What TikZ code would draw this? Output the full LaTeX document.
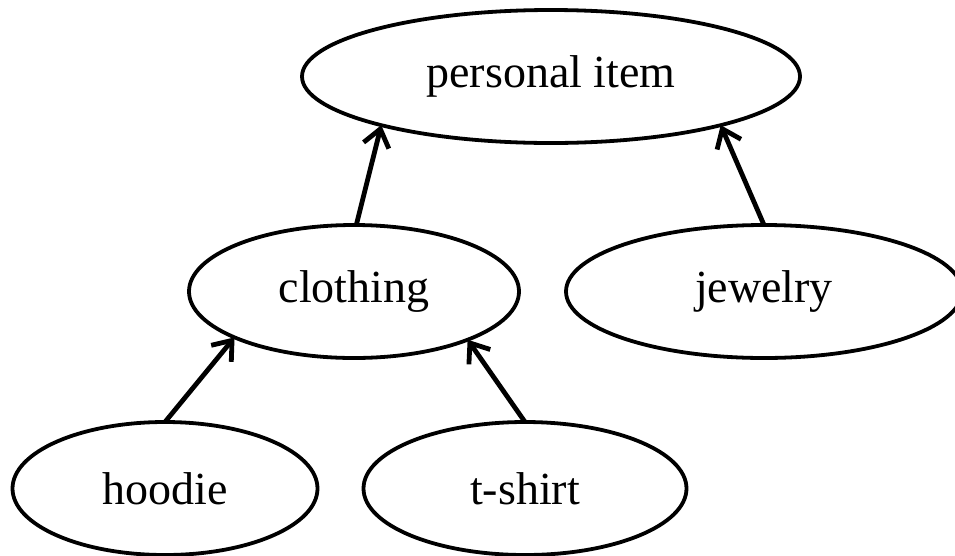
\documentclass[tikz,border=0pt]{standalone}
\usepackage{fontspec}
\setmainfont{Liberation Serif}
\usepackage{tikz}
\usetikzlibrary{shapes.geometric, arrows.meta}

\begin{document}
\begin{tikzpicture}[x=1pt, y=-1pt,
        % Define a style for the ellipses and the arrows
        item/.style={draw, ellipse, line width=3.8pt, inner sep=0pt, outer sep=0pt,
                     minimum height=133pt, font=\fontsize{46}{55}\selectfont},
        isa/.style={line width=4.8pt, -{Straight Barb[length=17pt, width=26pt]}}]

        \useasboundingbox (0,0) rectangle (955,555);

        % 1. Place the ellipses
        \node[item, minimum width=498pt] (personal) at (551, 76.5) {personal item};
        \node[item, minimum width=330pt] (clothing) at (354, 291.5) {clothing};
        \node[item, minimum width=396pt] (jewelry) at (764, 291.5) {jewelry};
        \node[item, minimum width=305pt] (hoodie) at (165, 488.5) {hoodie};
        \node[item, minimum width=323pt] (tshirt) at (525, 488.5) {t-shirt};

        % 2. Draw the arrows from each item up to its parent
        \draw[isa] (clothing.88) -- (personal.196);
        \draw[isa] (jewelry.north) -- (personal.344.5);
        \draw[isa] (hoodie.north) -- (clothing.201.5);
        \draw[isa] (tshirt.north) -- (clothing.337.5);
    \end{tikzpicture}
\end{document}
